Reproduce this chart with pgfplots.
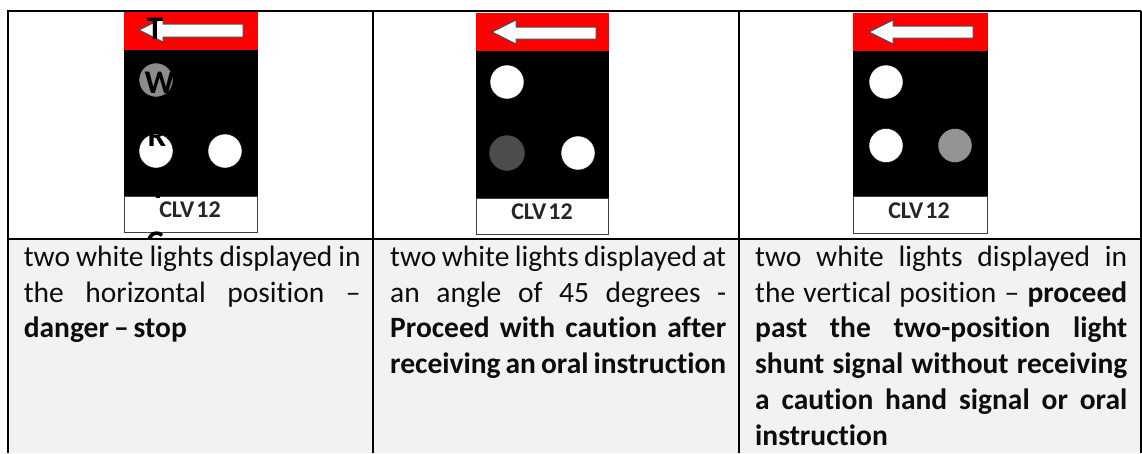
\documentclass[border=0pt]{standalone}
\usepackage{fontspec}
\setmainfont{Carlito}[Ligatures={NoCommon,TeX}]
\usepackage{pgfplots}
\pgfplotsset{compat=1.18}
\definecolor{cellgrey}{HTML}{F2F2F2}
\newcommand{\jline}[4]{\node[anchor=base west,inner sep=0pt,text=black!95] at (axis cs:#1,#2) {\fontsize{29.5}{29.5}\selectfont\spaceskip=0pt plus 1fil\relax\makebox[#3pt][s]{#4}};}
\newcommand{\pline}[3]{\node[anchor=base west,inner sep=0pt,text=black!95] at (axis cs:#1,#2) {\fontsize{29.5}{29.5}\selectfont #3};}
\newcommand{\lbl}[2]{\addplot[only marks,mark=text,text mark={\fontsize{24}{24}\selectfont\bfseries CLV\kern2pt 12},text mark as node=true,text mark style={inner sep=0pt,text=black!85}] coordinates {(#1,#2)};}
\newcommand{\stray}[3]{\addplot[only marks,mark=text,text mark={\fontsize{33}{33}\selectfont\bfseries #3},text mark as node=true,text mark style={inner sep=0pt,text=black}] coordinates {(#1,#2)};}
\begin{document}
\begin{tikzpicture}
\useasboundingbox (0,0) rectangle (1142pt,453pt);
\begin{axis}[at={(0,0)},anchor=south west,scale only axis,width=1142pt,height=453pt,
  xmin=0,xmax=1142,ymin=0,ymax=453,y dir=reverse,hide axis,clip=true,clip mode=global]
% signal 1
\addplot[fill=red,draw=none] coordinates {(124,12)(258,12)(258,50)(124,50)} -- cycle;
\addplot[fill=black,draw=none] coordinates {(124,50)(258,50)(258,196)(124,196)} -- cycle;
\addplot[fill=white,draw=black!75,line width=1pt] coordinates {(124.5,196)(257.5,196)(257.5,232)(124.5,232)} -- cycle;
\addplot[fill=white,draw=black!70,line width=1pt] coordinates {(139,30)(163,18)(163,24)(243,24)(243,37)(163,37)(163,42)} -- cycle;
\addplot[only marks,mark=*,mark size=17pt,mark options={fill=black!45,draw=none}] coordinates {(156,80)};
\addplot[only marks,mark=*,mark size=17pt,mark options={fill=white,draw=none}] coordinates {(156,151)(225,151)};
% stray letters on signal 1
\stray{155}{29}{T}
\stray{159.5}{82.5}{W}
\stray{157}{136}{R}
\stray{158}{188}{I}
\node[inner sep=0pt,text=black] at (axis cs:155,243) {\fontsize{33}{33}\selectfont\bfseries C};
% grey cells (cover the lower part of the C)
\addplot[fill=cellgrey,draw=none] coordinates {(8,240)(1141,240)(1141,453)(8,453)} -- cycle;
% signal 2
\addplot[fill=red,draw=none] coordinates {(476,13)(609,13)(609,51)(476,51)} -- cycle;
\addplot[fill=black,draw=none] coordinates {(476,51)(609,51)(609,198)(476,198)} -- cycle;
\addplot[fill=white,draw=black!75,line width=1pt] coordinates {(476.5,198)(608.5,198)(608.5,234)(476.5,234)} -- cycle;
\addplot[fill=white,draw=black!70,line width=1pt] coordinates {(492,32)(516,20)(516,27)(596,27)(596,39)(516,39)(516,44)} -- cycle;
\addplot[only marks,mark=*,mark size=17pt,mark options={fill=white,draw=none}] coordinates {(507,82)(578,153)};
\addplot[only marks,mark=*,mark size=18pt,mark options={fill=black!70,draw=none}] coordinates {(507,153)};
% signal 3
\addplot[fill=red,draw=none] coordinates {(853,13)(988,13)(988,51)(853,51)} -- cycle;
\addplot[fill=black,draw=none] coordinates {(853,51)(988,51)(988,196)(853,196)} -- cycle;
\addplot[fill=white,draw=black!75,line width=1pt] coordinates {(853.5,196)(987.5,196)(987.5,233)(853.5,233)} -- cycle;
\addplot[fill=white,draw=black!70,line width=1pt] coordinates {(869,32)(893,20)(893,26)(973,26)(973,38)(893,38)(893,44)} -- cycle;
\addplot[only marks,mark=*,mark size=17pt,mark options={fill=white,draw=none}] coordinates {(886,82)(886,145.5)};
\addplot[only marks,mark=*,mark size=17pt,mark options={fill=black!42,draw=none}] coordinates {(955,145.5)};
% labels
\lbl{190}{210}
\lbl{542}{212}
\lbl{919}{211}
% text
\jline{23.6}{266}{337}{two white lights displayed in}
\jline{23.6}{302}{337}{the horizontal position –}
\pline{23.6}{337}{\bfseries danger\kern5pt–\kern5pt stop}
\jline{390}{266}{336}{two white lights displayed at}
\jline{390}{302}{336}{an angle of 45 degrees -}
\jline{390}{337}{336}{\bfseries Proceed with caution after}
\jline{390}{373}{336}{\bfseries receiving an oral instruction}
\jline{755}{266}{372}{two white lights displayed in}
\jline{755}{302}{372}{the vertical position – \bfseries proceed}
\jline{755}{337}{372}{\bfseries past the two-position light}
\jline{755}{373}{372}{\bfseries shunt signal without receiving}
\jline{755}{409}{372}{\bfseries a caution hand signal or oral}
\pline{755}{445.5}{\bfseries instruction}
% borders
\addplot[black,line width=2pt] coordinates {(8,453)(8,11)};
\addplot[black,line width=2pt] coordinates {(7,11)(1141,11)};
\addplot[black,line width=1.6pt] coordinates {(8,238.8)(1141,238.8)};
\addplot[black,line width=2pt] coordinates {(372.7,11)(372.7,453)};
\addplot[black,line width=1.6pt] coordinates {(738.7,11)(738.7,453)};
\addplot[black,line width=1.2pt] coordinates {(1141,11)(1141,453)};
\end{axis}
\end{tikzpicture}
\end{document}
